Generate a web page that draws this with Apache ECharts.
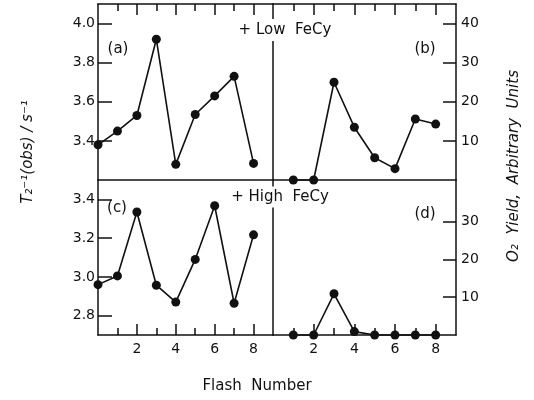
<!DOCTYPE html>
<html>
<head>
<meta charset="utf-8">
<script src="https://cdn.jsdelivr.net/npm/echarts@6/dist/echarts.min.js"></script>
<style>html,body{margin:0;padding:0;background:#fff;}#c{width:534px;height:400px;}</style>
</head>
<body>
<div id="c"></div>
<script>
// ---- data ----
const flashA = [0, 1, 2, 3, 4, 5, 6, 7, 8];
const panelA = [3.38, 3.45, 3.53, 3.92, 3.28, 3.535, 3.63, 3.73, 3.285];
const flashB = [1, 2, 3, 4, 5, 6, 7, 8];
const panelB = [0, 0, 25, 13.5, 5.7, 2.9, 15.6, 14.3];
const flashC = [0, 1, 2, 3, 4, 5, 6, 7, 8];
const panelC = [2.96, 3.005, 3.335, 2.957, 2.87, 3.09, 3.367, 2.864, 3.217];
const flashD = [1, 2, 3, 4, 5, 6, 7, 8];
const panelD = [0, 0, 10.9, 0.9, 0, 0, 0, 0];

const xTickLabels = [2, 4, 6, 8];
const xMinorTicks = [1, 3, 5, 7];
const yTickLabelsA = [3.4, 3.6, 3.8, 4.0];
const yTickLabelsB = [10, 20, 30, 40];
const yTickLabelsC = [2.8, 3.0, 3.2, 3.4];
const yTickLabelsD = [10, 20, 30];

// ---- styling ----
const INK = '#111';
const FONT = 'DejaVu Sans';
const LW = 1.5;

const rects = [
  {left: 98, top: 4, width: 175, height: 176},
  {left: 273, top: 4, width: 183, height: 176},
  {left: 98, top: 180, width: 175, height: 155},
  {left: 273, top: 180, width: 183, height: 155}
];
const grid = rects.concat(rects).map(r => Object.assign({containLabel: false}, r));

function fmtList(list, digits) {
  return v => {
    for (const t of list) if (Math.abs(t - v) < 1e-6) return digits ? t.toFixed(digits) : String(t);
    return '';
  };
}
const lineOn = () => ({show: true, onZero: false, lineStyle: {color: INK, width: LW}});
const lineOff = () => ({show: false, onZero: false});
const labelOff = {show: false};
function xAx(gi, pos, o) {
  return Object.assign({
    type: 'value', gridIndex: gi, position: pos, min: 0, max: 9, interval: 1,
    axisLine: lineOff(), axisTick: {show: false}, axisLabel: labelOff, splitLine: {show: false}
  }, o);
}
const longTick = () => ({show: true, inside: true, length: 11, customValues: xTickLabels, lineStyle: {color: INK, width: LW}});
const shortTick = () => ({show: true, inside: true, length: 7, customValues: xMinorTicks, lineStyle: {color: INK, width: LW}});
const xLabel = () => ({show: true, margin: 7, color: INK, fontFamily: FONT, fontSize: 14, customValues: xTickLabels, formatter: fmtList(xTickLabels, 0)});

const xAxis = [
  xAx(0, 'bottom', {axisLine: lineOn()}),
  xAx(0, 'top', {axisLine: lineOn(), axisTick: longTick()}),
  xAx(1, 'bottom', {axisLine: lineOn()}),
  xAx(1, 'top', {axisLine: lineOn(), axisTick: longTick()}),
  xAx(2, 'bottom', {axisLine: lineOn(), axisTick: longTick(), axisLabel: xLabel()}),
  xAx(2, 'top', {}),
  xAx(3, 'bottom', {axisLine: lineOn(), axisTick: longTick(), axisLabel: xLabel()}),
  xAx(3, 'top', {}),
  xAx(4, 'top', {axisTick: shortTick()}),
  xAx(5, 'top', {axisTick: shortTick()}),
  xAx(6, 'bottom', {axisTick: shortTick()}),
  xAx(7, 'bottom', {axisTick: shortTick()})
];

function yAx(gi, pos, o) {
  return Object.assign({
    type: 'value', gridIndex: gi, position: pos,
    axisLine: lineOff(), axisTick: {show: false}, axisLabel: labelOff, splitLine: {show: false}
  }, o);
}
const yTick = (len, list) => ({show: true, inside: true, length: len, customValues: list, lineStyle: {color: INK, width: LW}});
const yLabel = (list, d, m) => ({show: true, margin: m, color: INK, fontFamily: FONT, fontSize: 14, customValues: list, formatter: fmtList(list, d)});

const yAxis = [
  yAx(0, 'left', {min: 3.2, max: 4.1, interval: 0.2, axisLine: lineOn(), axisTick: yTick(14, yTickLabelsA), axisLabel: yLabel(yTickLabelsA, 1, 3)}),
  yAx(0, 'right', {min: 0, max: 1, axisLine: lineOn()}),
  yAx(1, 'right', {min: 0, max: 45, interval: 10, axisLine: lineOn(), axisTick: yTick(13, yTickLabelsB), axisLabel: yLabel(yTickLabelsB, 0, 5)}),
  yAx(2, 'left', {min: 2.7, max: 3.5, splitNumber: 4, axisLine: lineOn(), axisTick: yTick(14, yTickLabelsC), axisLabel: yLabel(yTickLabelsC, 1, 3)}),
  yAx(2, 'right', {min: 0, max: 1, axisLine: lineOn()}),
  yAx(3, 'right', {min: 0, max: 41, interval: 10, axisLine: lineOn(), axisTick: yTick(13, yTickLabelsD), axisLabel: yLabel(yTickLabelsD, 0, 5)}),
  yAx(4, 'left', {min: 0, max: 1, show: false}),
  yAx(5, 'left', {min: 0, max: 1, show: false}),
  yAx(6, 'left', {min: 0, max: 1, show: false}),
  yAx(7, 'left', {min: 0, max: 1, show: false})
];

function mkSeries(xs, ys, xi, yi) {
  return {
    type: 'line', xAxisIndex: xi, yAxisIndex: yi,
    data: xs.map((x, i) => [x, ys[i]]),
    symbol: 'circle', symbolSize: 9, clip: false,
    lineStyle: {color: INK, width: 1.6},
    itemStyle: {color: INK},
    z: 5, animation: false
  };
}

const series = [
  mkSeries(flashA, panelA, 0, 0),
  mkSeries(flashB, panelB, 2, 2),
  mkSeries(flashC, panelC, 4, 3),
  mkSeries(flashD, panelD, 6, 5)
];

function txt(x, y, text, o) {
  return {
    type: 'text', x: x, y: y, z: 100,
    style: Object.assign({text: text, fill: INK, font: '14px "' + FONT + '"', textAlign: 'center', textVerticalAlign: 'middle'}, o || {})
  };
}

const graphic = [
  txt(285, 30, '+ Low  FeCy', {font: '15px "' + FONT + '"', backgroundColor: '#fff', padding: [6, 3, 1, 3]}),
  txt(280, 197, '+ High  FeCy', {font: '15px "' + FONT + '"', backgroundColor: '#fff', padding: [3, 3, 3, 3]}),
  txt(118, 49, '(a)', {font: '15px "' + FONT + '"'}),
  txt(425, 49, '(b)', {font: '15px "' + FONT + '"'}),
  txt(117, 208, '(c)', {font: '15px "' + FONT + '"'}),
  txt(425, 214, '(d)', {font: '15px "' + FONT + '"'}),
  txt(257, 386, 'Flash  Number', {font: '15px "' + FONT + '"'}),
  Object.assign(txt(28, 152, 'T\u2082\u207B\u00B9(obs) / s\u207B\u00B9', {font: 'italic 15px "' + FONT + '"'}), {rotation: Math.PI / 2}),
  Object.assign(txt(514, 166, 'O\u2082  Yield,  Arbitrary  Units', {font: 'italic 15px "' + FONT + '"'}), {rotation: Math.PI / 2})
];

const chart = echarts.init(document.getElementById('c'), null, {renderer: 'canvas'});
chart.setOption({
  animation: false,
  backgroundColor: '#fff',
  grid: grid,
  xAxis: xAxis,
  yAxis: yAxis,
  series: series,
  graphic: graphic
});
</script>
</body>
</html>
